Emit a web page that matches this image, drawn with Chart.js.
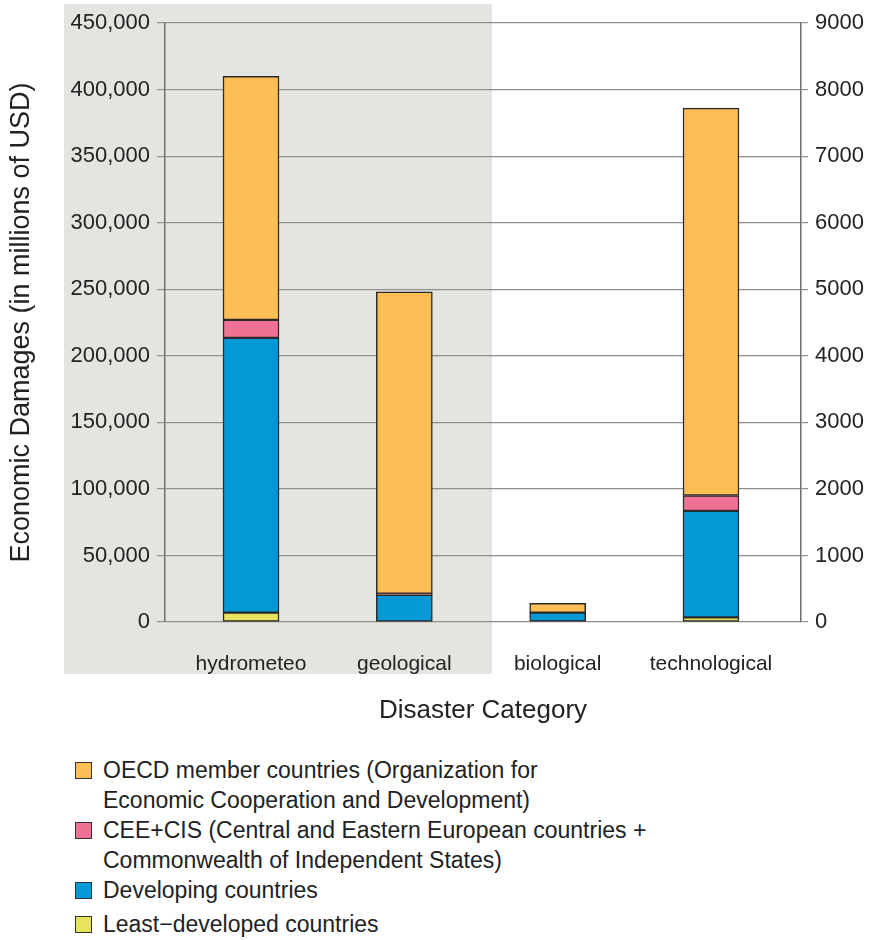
<!DOCTYPE html>
<html lang="en">
<head>
<meta charset="UTF-8">
<title>Economic Damages by Disaster Category</title>
<script src="https://cdn.jsdelivr.net/npm/chart.js"></script>
<style>
    body { margin: 0; background: #fff; font-family: "Liberation Sans", Arial, sans-serif; color: #222; }
    #wrap { position: relative; width: 876px; height: 940px; }
    #chartBox { position: absolute; left: 0; top: 0; width: 876px; height: 740px; }
    #legend { position: absolute; left: 75px; top: 755px; font-size: 23px; line-height: 30px; }
    .item { display: flex; align-items: flex-start; }
    .item:last-child { margin-top: 4px; }
    .box { width: 15px; height: 15px; border: 1.5px solid #333; margin: 7px 11px 0 0; flex: none; }
</style>
</head>
<body>
<div id="wrap">
    <div id="chartBox"><canvas id="damages"></canvas></div>
    <div id="legend"></div>
</div>
<script>
// categories: first two on the left axis (millions USD), last two on the right axis
const categories = ['hydrometeo', 'geological', 'biological', 'technological'];

const seriesNames = [
    'Least\u2212developed countries',
    'Developing countries',
    'CEE+CIS (Central and Eastern European countries +\nCommonwealth of Independent States)',
    'OECD member countries (Organization for\nEconomic Cooperation and Development)'
];
const seriesColors = ['#e6e35c', '#0399d6', '#ef7193', '#fdbf55'];

// hydrometeo, geological  (left axis)
const leftLdc = [7000, null];
const leftDeveloping = [206500, 20500];
const leftCee = [13500, 800];
const leftOecd = [183000, 226700];

// biological, technological  (right axis)
const rightLdc = [null, 70];
const rightDeveloping = [140, 1600];
const rightCee = [null, 230];
const rightOecd = [140, 5820];

const leftTicks = [0, 50000, 100000, 150000, 200000, 250000, 300000, 350000, 400000, 450000];
const rightTicks = [0, 1000, 2000, 3000, 4000, 5000, 6000, 7000, 8000, 9000];

const FONT = '"Liberation Sans", Arial, sans-serif';
const leftSets = [leftLdc, leftDeveloping, leftCee, leftOecd];
const rightSets = [rightLdc, rightDeveloping, rightCee, rightOecd];

function makeSet(i, values, side) {
    const first = side === 'y' ? 0 : 2;
    const data = values.map((v, k) => ({ x: first + k, y: v }));
    return {
        label: seriesNames[i],
        data: data,
        yAxisID: side,
        stack: 'all',
        backgroundColor: seriesColors[i],
        borderColor: '#2a2a2a',
        borderWidth: 1.5,
        borderSkipped: false,
        barThickness: 56
    };
}

const datasets = [];
leftSets.forEach((v, i) => datasets.push(makeSet(i, v, 'y')));
rightSets.forEach((v, i) => datasets.push(makeSet(i, v, 'y1')));

// light grey panel behind the left-axis categories
const panel = {
    id: 'panel',
    beforeDraw(chart) {
        const right = chart.scales.x.getPixelForValue(1.5) + 11;
        const c = chart.ctx;
        c.save();
        c.fillStyle = '#e4e4e1';
        c.fillRect(64, 4, right - 64, 670);
        c.restore();
    }
};

new Chart(document.getElementById('damages'), {
    type: 'bar',
    data: { datasets: datasets },
    plugins: [panel],
    options: {
        responsive: true,
        maintainAspectRatio: false,
        animation: false,
        layout: { padding: { top: 23, left: 0, right: 0, bottom: 0 } },
        plugins: { legend: { display: false }, tooltip: { enabled: false } },
        scales: {
            x: {
                type: 'linear',
                stacked: true,
                offset: false,
                min: -0.561, max: 3.587,
                afterBuildTicks(s) { s.ticks = categories.map((c, i) => ({ value: i })); },
                grid: { display: false },
                border: { display: false },
                ticks: {
                    color: '#222', padding: 22, font: { family: FONT, size: 21 },
                    callback: v => categories[v]
                },
                title: {
                    display: true, text: 'Disaster Category', color: '#222',
                    font: { family: FONT, size: 26 }, padding: { top: 0, bottom: 14 }
                },
                afterFit(s) { s.height = 118; }
            },
            y: {
                stacked: true,
                position: 'left',
                min: 0, max: 450000,
                afterBuildTicks(s) { s.ticks = leftTicks.map(v => ({ value: v })); },
                grid: { color: '#8e8e8e', lineWidth: 1.2, tickLength: 8 },
                border: { color: '#6e6e6e', width: 1.5 },
                ticks: {
                    color: '#222', padding: 7, font: { family: FONT, size: 22 },
                    callback: v => v.toLocaleString('en-US')
                },
                title: {
                    display: true, text: 'Economic Damages (in millions of USD)', color: '#222',
                    font: { family: FONT, size: 27 }, padding: { top: 5, bottom: 0 }
                },
                afterFit(s) { s.width = 165; }
            },
            y1: {
                stacked: true,
                position: 'right',
                min: 0, max: 9000,
                afterBuildTicks(s) { s.ticks = rightTicks.map(v => ({ value: v })); },
                grid: { drawOnChartArea: false, color: '#8e8e8e', lineWidth: 1.2, tickLength: 7 },
                border: { color: '#6e6e6e', width: 1.5 },
                ticks: {
                    color: '#222', padding: 7, font: { family: FONT, size: 22 },
                    callback: v => String(v)
                },
                afterFit(s) { s.width = 75; }
            }
        }
    }
});

// legend, listed top-down in the same order as the stacks appear
const legend = document.getElementById('legend');
[3, 2, 1, 0].forEach(i => {
    const row = document.createElement('div');
    row.className = 'item';
    const box = document.createElement('span');
    box.className = 'box';
    box.style.background = seriesColors[i];
    const txt = document.createElement('span');
    txt.innerHTML = seriesNames[i].replace('\n', '<br>');
    row.appendChild(box);
    row.appendChild(txt);
    legend.appendChild(row);
});
</script>
</body>
</html>
